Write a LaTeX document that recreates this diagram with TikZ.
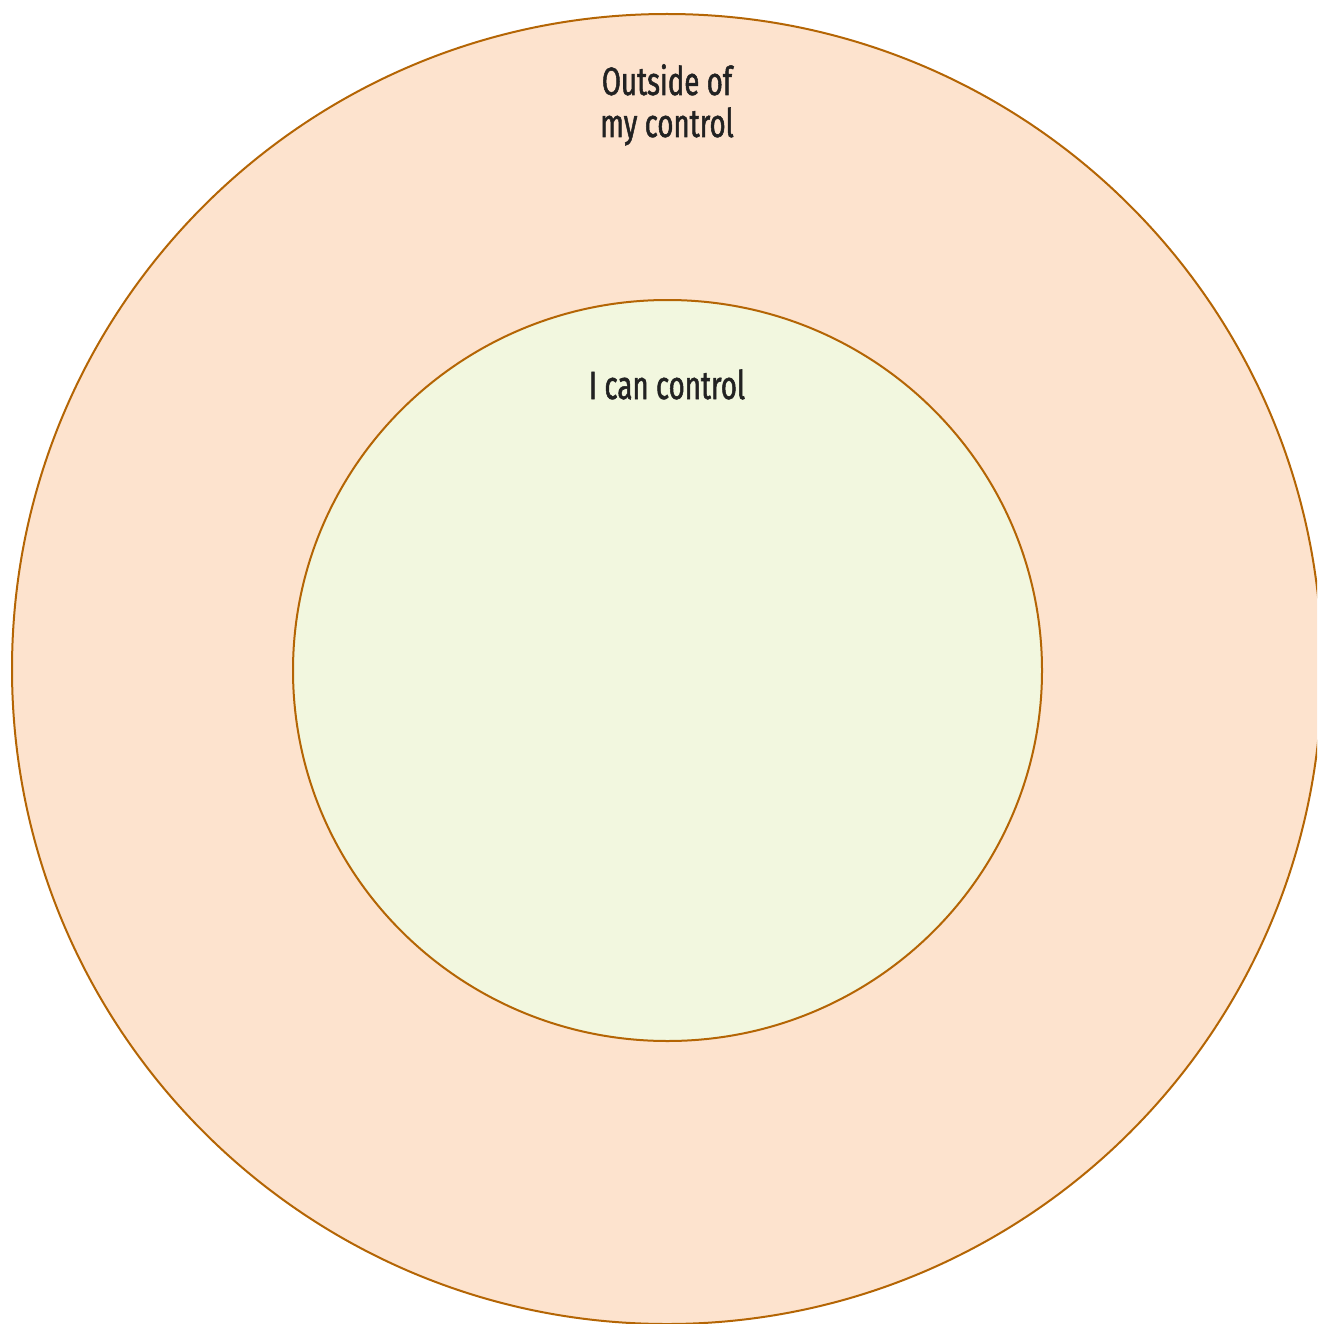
\documentclass[tikz,border=0pt]{standalone}
\usepackage{fontspec}
\newfontfamily\labelfont[FakeStretch=0.7,FakeBold=1.3]{Fira Sans}
\definecolor{outerfill}{HTML}{FDE3CE}
\definecolor{innerfill}{HTML}{F2F7DF}
\definecolor{ringline}{HTML}{B46504}
\definecolor{textcol}{HTML}{222222}
\begin{document}
\begin{tikzpicture}[x=1pt,y=-1pt,
  ring/.style={draw=ringline, line width=2pt},
  lbl/.style={text=textcol, font=\labelfont\fontsize{39.5}{42}\selectfont, align=center, inner sep=0pt}]
\useasboundingbox (0,0) rectangle (1317,1324);
\begin{scope}
\clip (0,0) rectangle (1317,1324);
\path[ring, fill=outerfill] (667,669) circle [radius=655];
\path[ring, fill=innerfill] (667.5,670.5) ellipse [x radius=374.5, y radius=370.5];
\end{scope}
\node[lbl, anchor=base] (outer) at (667,137) {Outside of\\my control};
\node[lbl, anchor=base] (inner) at (667,399) {I can control};
\end{tikzpicture}
\end{document}
